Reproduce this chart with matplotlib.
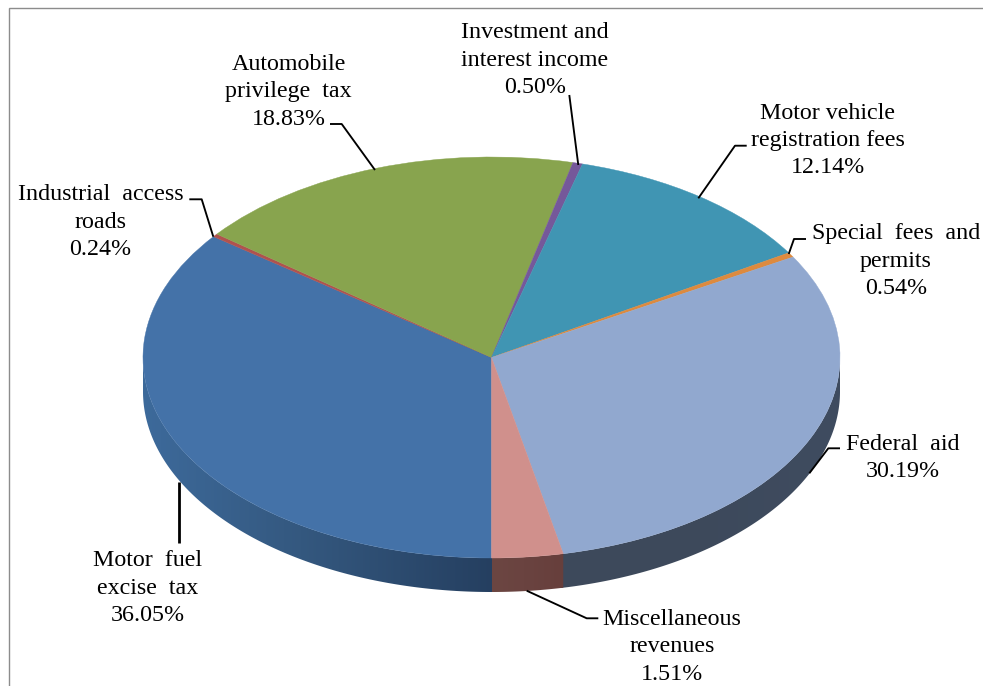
import matplotlib
matplotlib.use("Agg")
import matplotlib.pyplot as plt
import numpy as np
from matplotlib.patches import Polygon
from matplotlib.colors import to_rgb

plt.rcParams['font.family'] = ['Liberation Serif', 'DejaVu Serif']

# ---- data ----
categories = ["Motor  fuel\nexcise  tax", "Industrial  access\nroads", "Automobile\nprivilege  tax",
              "Investment and\ninterest income", "Motor vehicle\nregistration fees",
              "Special  fees  and\npermits", "Miscellaneous\nrevenues", "Federal  aid"]
labelled_pct = [36.05, 0.24, 18.83, 0.50, 12.14, 0.54, 1.51, 30.19]
# Clockwise from straight down, as the slices are actually drawn in the picture
slice_order = ["Motor fuel", "Industrial", "Automobile", "Investment", "Motor vehicle", "Special", "Federal", "Misc"]
drawn_shares = [35.3, 0.25, 18.2, 0.45, 12.05, 0.39, 30.05, 3.3]
top_colors = ["#4472A8", "#B0524E", "#88A44E", "#75589A", "#4095B3", "#DD8A3E", "#91A8CF", "#D0908C"]
side_stops = {
    "Motor fuel": ["#3D6A9B", "#34587F", "#253F60"],
    "Federal": ["#3E4A5C", "#3D495B", "#3F4C60"],
    "Misc": ["#6C4642", "#6A4340", "#673F3C"],
}

W, H = 983, 686
CX, CY, RX, RY, DEPTH = 491.5, 357.5, 348.5, 200.5, 34.0

fig = plt.figure(figsize=(W / 100, H / 100), dpi=100, facecolor="white")

# Pie axes: unit circle maps to the tilted ellipse
ax = fig.add_axes([0, 0, 1, 1])
ax.pie(drawn_shares, colors=top_colors, startangle=270, counterclock=False, radius=1.0,
       wedgeprops=dict(linewidth=0.3), normalize=True)
for w, c in zip(ax.patches, top_colors):
    w.set_edgecolor(c)
    w.set_zorder(3)

# Side wall, built from the same slice shares
bounds = 270 - np.concatenate([[0], np.cumsum(drawn_shares)]) / np.sum(drawn_shares) * 360
d = DEPTH / RY
for name, a0, a1 in zip(slice_order, bounds[:-1], bounds[1:]):
    if name not in side_stops:
        continue
    lo, hi = min(a0, a1), max(a0, a1)
    if name == "Motor fuel":
        lo = max(lo, 180)
        hi = hi + 0.4   # small overlap under the next slice hides the seam
    if name == "Federal":
        lo = lo - 0.4
        hi = min(hi, 0)
    th = np.radians(np.linspace(lo, hi, 200))
    xs, ys = np.cos(th), np.sin(th)
    outline = np.vstack([np.column_stack([xs, ys]), np.column_stack([xs[::-1], ys[::-1] - d])])
    x0, x1 = xs.min(), xs.max()
    u = np.linspace(0, 1, 256)
    stops = np.array([to_rgb(c) for c in side_stops[name]])
    grad = np.stack([np.interp(u, [0, .45, 1], stops[:, k]) for k in range(3)], axis=-1)[None, :, :]
    z = 2.2 if name == "Misc" else 2
    im = ax.imshow(grad, extent=(x0, x1, ys.min() - d - 0.01, ys.max() + 0.01), aspect="auto", zorder=z,
                   interpolation="bilinear")
    clip = Polygon(outline, closed=True, transform=ax.transData, facecolor="none", edgecolor="none")
    ax.add_patch(clip)
    im.set_clip_path(clip)

ax.set_aspect("auto")
ax.set_xlim(-CX / RX, (W - CX) / RX)
ax.set_ylim((CY - H) / RY, CY / RY)
ax.axis("off")

# Overlay in picture pixels for frame, leaders and text
ov = fig.add_axes([0, 0, 1, 1], facecolor="none")
ov.set_xlim(0, W)
ov.set_ylim(H, 0)
ov.axis("off")

ov.plot([9, 9, 983], [686, 7.5, 7.5], color="#8C8C8C", lw=1.0, solid_joinstyle="miter")

leaders = [
    ([179.3, 179.3], [481.7, 542.7], 2.0),
    ([213.3, 201.7, 189.3], [236.7, 199.3, 199.3], 1.35),
    ([375, 341.7, 330], [170, 124, 124], 1.35),
    ([578.3, 569.3], [165, 95], 1.35),
    ([698.3, 735, 746.7], [198.3, 145.7, 145.7], 1.35),
    ([788.7, 794, 806], [254, 239, 239], 1.35),
    ([526.7, 586.7, 598.3], [590.7, 618.3, 618.3], 1.35),
    ([809.3, 828.3, 840], [473.3, 448.3, 448.3], 1.35),
]
for xs, ys, lw in leaders:
    ov.plot(xs, ys, color="black", lw=lw, solid_capstyle="butt", zorder=5)

label_pos = [(148, 588), (100.5, 222), (288.7, 92), (535, 60), (827.5, 140.5), (896, 261), (672, 647), (903, 458)]
for cat, pct, (x, y) in zip(categories, labelled_pct, label_pos):
    ov.text(x, y, f"{cat}\n{pct:.2f}%", ha="center", va="center", multialignment="center",
            fontsize=17.3, color="black", linespacing=1.4, zorder=6)

fig.savefig("out.png", dpi=100, facecolor="white")
